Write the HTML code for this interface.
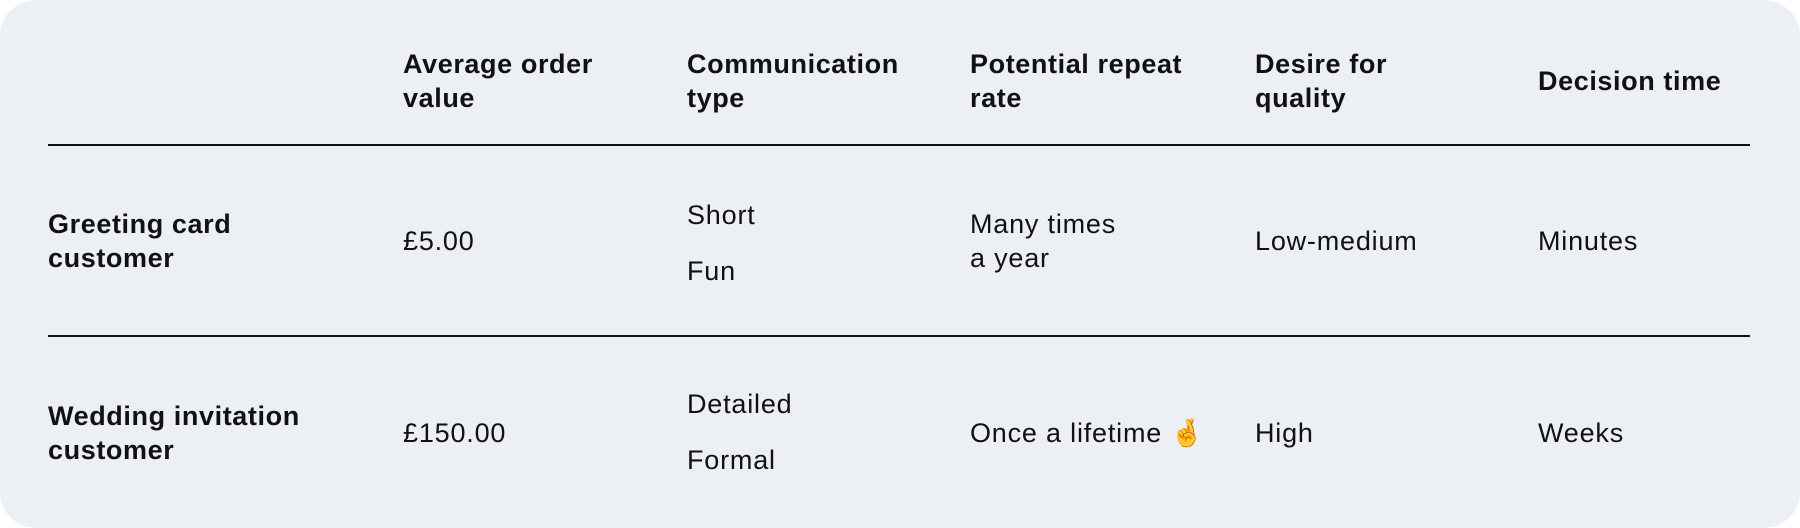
<!DOCTYPE html>
<html><head><meta charset="utf-8"><style>
html,body{margin:0;padding:0;background:#fff;}
.card{position:absolute;left:0;top:0;width:1800px;height:528px;background:#eceff4;border-radius:36px;overflow:hidden;font-family:"Liberation Sans",sans-serif;color:#111;font-size:27px;letter-spacing:0.8px;line-height:34px;}
.t{position:absolute;transform:translateY(-50%);white-space:nowrap;}
.b{font-weight:bold;letter-spacing:0.6px;}
.line{position:absolute;left:48px;width:1702px;height:2px;background:#111;}
</style></head><body><div class="card">
<div class="t b" style="left:403px;top:81px">Average order<br>value</div>
<div class="t b" style="left:687px;top:81px">Communication<br>type</div>
<div class="t b" style="left:970px;top:81px">Potential repeat<br>rate</div>
<div class="t b" style="left:1255px;top:81px">Desire for<br>quality</div>
<div class="t b" style="left:1538px;top:81px">Decision time</div>
<div class="line" style="top:144px"></div>
<div class="t b" style="left:48px;top:241px">Greeting card<br>customer</div>
<div class="t" style="left:403px;top:241px">£5.00</div>
<div class="t" style="left:687px;top:215px">Short</div>
<div class="t" style="left:687px;top:271px">Fun</div>
<div class="t" style="left:970px;top:241px">Many times<br>a year</div>
<div class="t" style="left:1255px;top:241px">Low-medium</div>
<div class="t" style="left:1538px;top:241px">Minutes</div>
<div class="line" style="top:335px"></div>
<div class="t b" style="left:48px;top:433px">Wedding invitation<br>customer</div>
<div class="t" style="left:403px;top:433px">£150.00</div>
<div class="t" style="left:687px;top:404px">Detailed</div>
<div class="t" style="left:687px;top:460px">Formal</div>
<div class="t" style="left:970px;top:433px">Once a lifetime <span style="color:#e8b12a">🤞</span></div>
<div class="t" style="left:1255px;top:433px">High</div>
<div class="t" style="left:1538px;top:433px">Weeks</div>
</div></body></html>
